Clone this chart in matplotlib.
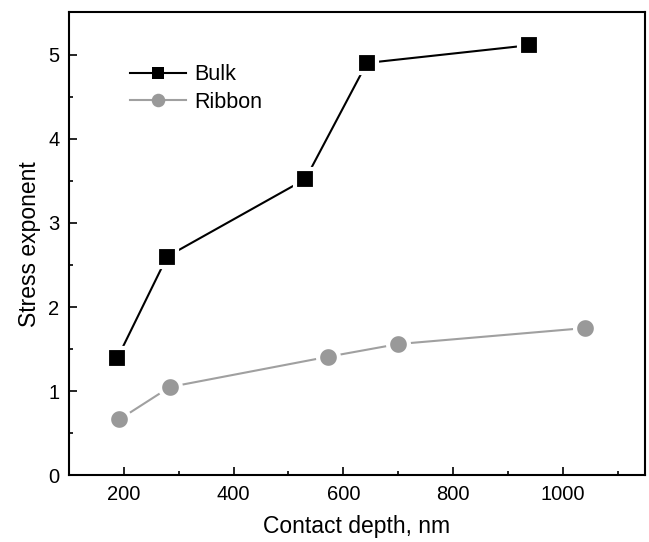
import matplotlib
matplotlib.use("Agg")
import matplotlib.pyplot as plt
from matplotlib.ticker import MultipleLocator

plt.rcParams["font.family"] = ["Liberation Sans", "DejaVu Sans"]

# valores
bulk_depth = [188, 279, 531, 643, 938]
bulk_n = [1.39, 2.60, 3.52, 4.90, 5.11]
ribbon_depth = [192, 284, 573, 700, 1041]
ribbon_n = [0.665, 1.05, 1.41, 1.56, 1.75]

fig = plt.figure(figsize=(6.49, 5.42), dpi=100)
ax = fig.add_axes([0.1063, 0.123, 0.8875, 0.854])

ax.plot(bulk_depth, bulk_n, color="black", lw=1.5, marker="s", ms=14,
        mfc="black", mec="white", mew=3, label="Bulk")
ax.plot(ribbon_depth, ribbon_n, color="#a0a0a0", lw=1.5, marker="o", ms=15,
        mfc="#999999", mec="white", mew=3, label="Ribbon")

ax.set_xlim(100, 1150)
ax.set_ylim(0, 5.5)
ax.xaxis.set_major_locator(MultipleLocator(200))
ax.xaxis.set_minor_locator(MultipleLocator(100))
ax.yaxis.set_major_locator(MultipleLocator(1))
ax.yaxis.set_minor_locator(MultipleLocator(0.5))
ax.tick_params(which="both", direction="in", labelsize=14.5, width=1.2)
ax.tick_params(which="major", length=6, pad=7)
ax.tick_params(which="minor", length=3)
for s in ax.spines.values():
    s.set_linewidth(1.5)

ax.set_xlabel("Contact depth, nm", fontsize=16.5, labelpad=8)
ax.set_ylabel("Stress exponent", fontsize=16.5, labelpad=5)

leg = ax.legend(loc="upper left", bbox_to_anchor=(0.072, 0.93), frameon=False,
                fontsize=15.5, handlelength=2.6, handletextpad=0.4,
                labelspacing=0.3, markerscale=0.65)
# na legenda a linha passa pelo marcador, sem a borda branca
for h in leg.legend_handles:
    h.set_markeredgewidth(0)

fig.savefig("out.png", dpi=100)
